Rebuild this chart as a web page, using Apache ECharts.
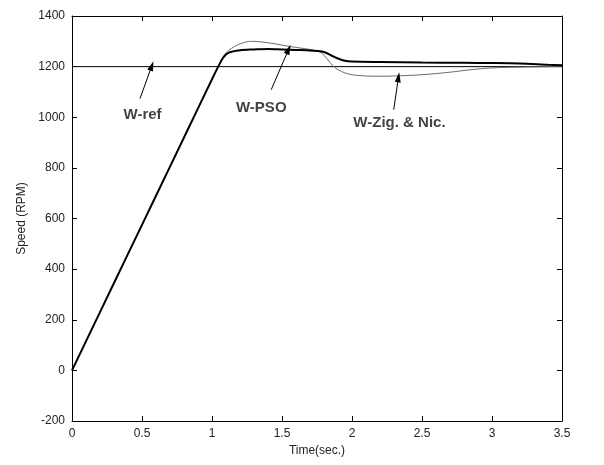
<!DOCTYPE html>
<html>
<head>
<meta charset="utf-8">
<script src="https://cdn.jsdelivr.net/npm/echarts@6/dist/echarts.min.js"></script>
<style>html,body{margin:0;padding:0;background:#fff;}#c{width:604px;height:465px;}</style>
</head>
<body>
<div id="c"></div>
<script>
// Data
const refTime = [0, 3.5];
const refSpeed = [1200, 1200];

const psoTime  = [0, 0.2, 0.4, 0.6, 0.8, 1.0, 1.04, 1.08, 1.12, 1.2, 1.3, 1.4, 1.5, 1.6, 1.7, 1.75, 1.8, 1.85, 1.9, 1.95, 2.0, 2.2, 2.5, 2.8, 3.0, 3.2, 3.4, 3.5];
const psoSpeed = [0, 230, 460, 690, 920, 1150, 1195, 1235, 1255, 1265, 1268, 1270, 1268, 1266, 1264, 1262, 1258, 1245, 1232, 1223, 1220, 1218, 1216, 1215, 1214, 1212, 1207, 1205];

const znTime  = [0, 0.2, 0.4, 0.6, 0.8, 1.0, 1.04, 1.08, 1.12, 1.2, 1.28, 1.35, 1.45, 1.55, 1.65, 1.72, 1.78, 1.82, 1.86, 1.9, 1.95, 2.0, 2.1, 2.2, 2.3, 2.5, 2.7, 2.85, 3.0, 3.2, 3.5];
const znSpeed = [0, 230, 460, 690, 920, 1150, 1195, 1240, 1265, 1290, 1300, 1298, 1290, 1280, 1272, 1266, 1255, 1232, 1205, 1188, 1175, 1168, 1163, 1162, 1163, 1168, 1178, 1188, 1195, 1198, 1200];

const xTicks = [0, 0.5, 1, 1.5, 2, 2.5, 3, 3.5];
const yTicks = [-200, 0, 200, 400, 600, 800, 1000, 1200, 1400];

// Annotations: label text, label anchor, arrow tail, arrow tip (data coordinates)
const annLabels = ['W-ref', 'W-PSO', 'W-Zig. & Nic.'];
const annText  = [[0.504, 1008], [1.352, 1036], [2.339, 978]];
const annTail  = [[0.486, 1074], [1.423, 1109], [2.298, 1030]];
const annTip   = [[0.570, 1203], [1.547, 1268], [2.332, 1158]];

const zip = (a, b) => a.map((v, i) => [v, b[i]]);

const axisFont = { fontFamily: 'Liberation Sans, Arial, sans-serif', fontSize: 12, color: '#222' };

const chart = echarts.init(document.getElementById('c'));
chart.setOption({
  animation: false,
  backgroundColor: '#fff',
  grid: { left: 72, right: 42, top: 16, bottom: 44, show: false },
  xAxis: [{
    type: 'value', min: 0, max: 3.5, interval: 0.5,
    name: 'Time(sec.)', nameLocation: 'middle', nameGap: 21,
    nameTextStyle: axisFont,
    axisLine: { show: true, onZero: false, lineStyle: { color: '#000', width: 1 } },
    axisTick: { show: true, inside: true, length: 5, lineStyle: { color: '#000' } },
    axisLabel: Object.assign({ margin: 7, formatter: v => String(v) }, axisFont),
    splitLine: { show: false }
  }, {
    type: 'value', min: 0, max: 3.5, interval: 0.5, position: 'top',
    axisLine: { show: true, onZero: false, lineStyle: { color: '#000', width: 1 } },
    axisTick: { show: true, inside: true, length: 5, lineStyle: { color: '#000' } },
    axisLabel: { show: false }, splitLine: { show: false }
  }],
  yAxis: [{
    type: 'value', min: -200, max: 1400, interval: 200,
    name: 'Speed (RPM)', nameLocation: 'middle', nameGap: 40,
    nameTextStyle: axisFont,
    axisLine: { show: true, onZero: false, lineStyle: { color: '#000', width: 1 } },
    axisTick: { show: true, inside: true, length: 5, lineStyle: { color: '#000' } },
    axisLabel: Object.assign({ margin: 7, formatter: v => String(v) }, axisFont),
    splitLine: { show: false }
  }, {
    type: 'value', min: -200, max: 1400, interval: 200, position: 'right',
    axisLine: { show: true, onZero: false, lineStyle: { color: '#000', width: 1 } },
    axisTick: { show: true, inside: true, length: 5, lineStyle: { color: '#000' } },
    axisLabel: { show: false }, splitLine: { show: false }
  }],
  series: [
    {
      name: 'W-ref', type: 'line', data: zip(refTime, refSpeed), symbol: 'none',
      lineStyle: { color: '#000', width: 1 }, z: 2
    },
    {
      name: 'W-Zig. & Nic.', type: 'line', data: zip(znTime, znSpeed), symbol: 'none', smooth: 0.3,
      lineStyle: { color: '#6e6e6e', width: 1 }, z: 3
    },
    {
      name: 'W-PSO', type: 'line', data: zip(psoTime, psoSpeed), symbol: 'none', smooth: 0.3,
      lineStyle: { color: '#000', width: 2 }, z: 4,
      markLine: {
        silent: true, animation: false,
        symbol: ['none', 'triangle'], symbolSize: [6, 10],
        lineStyle: { color: '#000', width: 1, type: 'solid' },
        label: { show: false },
        data: annTail.map((t, i) => [{ coord: t }, { coord: annTip[i] }])
      }
    },
    {
      name: 'labels', type: 'scatter', symbolSize: 0,
      data: annText.map((p, i) => ({ value: p, name: annLabels[i] })),
      label: {
        show: true, position: 'inside', formatter: p => p.name,
        fontFamily: 'Liberation Sans, Arial, sans-serif', fontSize: 15, fontWeight: 'bold', color: '#111'
      },
      z: 5
    }
  ]
});
</script>
</body>
</html>
